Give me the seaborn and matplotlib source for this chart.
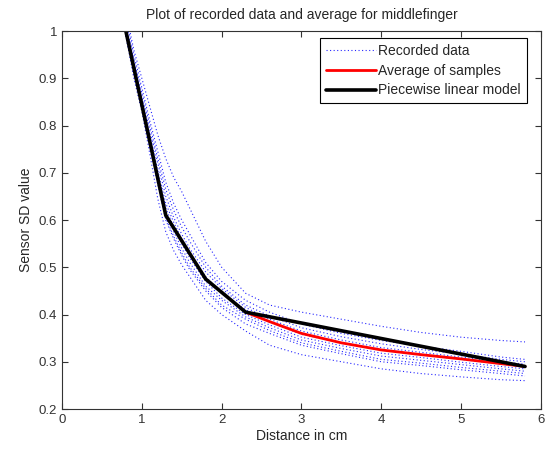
import matplotlib
matplotlib.use("Agg")
import matplotlib.pyplot as plt
import seaborn as sns
import pandas as pd

# ---- data ----
x_samples = [0.8, 0.9, 1.0, 1.1, 1.2, 1.3, 1.4, 1.5, 1.6, 1.8, 2.0, 2.3, 2.6, 3.0, 3.5, 4.0, 4.5, 5.0, 5.5, 5.8]
sample_upper = [1.04, 0.96, 0.90, 0.84, 0.78, 0.73, 0.69, 0.66, 0.625, 0.555, 0.50, 0.445, 0.42, 0.405, 0.39, 0.375, 0.362, 0.352, 0.345, 0.342]
sample_m1 = [1.03, 0.95, 0.88, 0.81, 0.745, 0.68, 0.635, 0.60, 0.57, 0.51, 0.47, 0.43, 0.405, 0.38, 0.36, 0.345, 0.333, 0.322, 0.31, 0.305]
sample_m2 = [1.02, 0.94, 0.87, 0.80, 0.73, 0.665, 0.62, 0.585, 0.555, 0.50, 0.46, 0.42, 0.397, 0.372, 0.353, 0.338, 0.326, 0.316, 0.305, 0.30]
sample_m3 = [1.01, 0.935, 0.86, 0.79, 0.72, 0.65, 0.605, 0.57, 0.54, 0.49, 0.455, 0.415, 0.39, 0.365, 0.346, 0.33, 0.32, 0.31, 0.30, 0.295]
sample_m4 = [1.005, 0.93, 0.855, 0.78, 0.705, 0.635, 0.595, 0.56, 0.53, 0.48, 0.445, 0.41, 0.384, 0.358, 0.34, 0.325, 0.315, 0.305, 0.295, 0.29]
sample_m5 = [1.0, 0.925, 0.85, 0.775, 0.70, 0.625, 0.585, 0.55, 0.52, 0.47, 0.435, 0.40, 0.378, 0.352, 0.334, 0.318, 0.309, 0.299, 0.29, 0.285]
sample_m6 = [1.0, 0.92, 0.845, 0.77, 0.69, 0.615, 0.575, 0.54, 0.51, 0.46, 0.43, 0.395, 0.372, 0.346, 0.328, 0.312, 0.303, 0.294, 0.285, 0.28]
sample_m7 = [0.995, 0.915, 0.84, 0.76, 0.68, 0.605, 0.565, 0.53, 0.50, 0.455, 0.42, 0.39, 0.366, 0.34, 0.322, 0.305, 0.297, 0.288, 0.28, 0.275]
sample_m8 = [0.99, 0.91, 0.835, 0.755, 0.675, 0.60, 0.56, 0.525, 0.495, 0.45, 0.415, 0.38, 0.36, 0.335, 0.317, 0.30, 0.292, 0.283, 0.275, 0.27]
sample_lower = [0.99, 0.90, 0.83, 0.74, 0.645, 0.575, 0.535, 0.505, 0.48, 0.43, 0.40, 0.365, 0.335, 0.315, 0.30, 0.285, 0.275, 0.268, 0.262, 0.26]

samples = [sample_upper, sample_m1, sample_m2, sample_m3, sample_m4, sample_m5,
           sample_m6, sample_m7, sample_m8, sample_lower]

x_average = [2.3, 2.6, 3.0, 3.5, 4.0, 4.5, 5.0, 5.5, 5.8]
y_average = [0.405, 0.385, 0.36, 0.34, 0.325, 0.315, 0.306, 0.296, 0.29]

x_model = [0.8, 1.3, 1.8, 2.3, 5.8]
y_model = [1.0, 0.61, 0.475, 0.405, 0.29]

x_ticks = [0, 1, 2, 3, 4, 5, 6]
y_ticks = [0.2, 0.3, 0.4, 0.5, 0.6, 0.7, 0.8, 0.9, 1.0]
y_tick_labels = ["0.2", "0.3", "0.4", "0.5", "0.6", "0.7", "0.8", "0.9", "1"]

title = "Plot of recorded data and average for middlefinger"
xlabel = "Distance in cm"
ylabel = "Sensor SD value"

# ---- plot ----
sns.set_style("ticks")
plt.rcParams['font.family'] = ['Liberation Sans', 'DejaVu Sans']

fig = plt.figure(figsize=(5.5, 4.54), dpi=100)
ax = fig.add_axes([0.1127, 0.0991, 0.8709, 0.8326])

for i, s in enumerate(samples):
    df = pd.DataFrame({"x": x_samples, "y": s})
    sns.lineplot(data=df, x="x", y="y", ax=ax, color="#0000ff",
                 linestyle=(0, (1, 2.2)), linewidth=0.8, alpha=0.85,
                 estimator=None, sort=False,
                 label="Recorded data" if i == 0 else "_nolegend_", legend=False)

sns.lineplot(x=x_average, y=y_average, ax=ax, color="#ff0000", linewidth=2.0,
             estimator=None, sort=False, label="Average of samples", legend=False)
sns.lineplot(x=x_model, y=y_model, ax=ax, color="black", linewidth=2.6,
             estimator=None, sort=False, label="Piecewise linear model", legend=False)

ax.set_xlim(0, 6)
ax.set_ylim(0.2, 1.0)
ax.set_xticks(x_ticks)
ax.set_xticklabels([str(t) for t in x_ticks])
ax.set_yticks(y_ticks)
ax.set_yticklabels(y_tick_labels)
ax.tick_params(direction="in", top=True, right=True, length=4, width=0.8,
               labelsize=9.5, colors="#333333")
for sp in ax.spines.values():
    sp.set_visible(True)
    sp.set_linewidth(0.8)
    sp.set_color("#333333")

ax.set_title(title, fontsize=10, pad=9)
ax.set_xlabel(xlabel, fontsize=10, labelpad=2)
ax.set_ylabel(ylabel, fontsize=10, labelpad=4)

leg = ax.legend(loc="upper right", fontsize=10, frameon=True, fancybox=False,
                framealpha=1, edgecolor="black", handlelength=3.6,
                bbox_to_anchor=(0.985, 1.0),
                labelspacing=0.42, handletextpad=0.2, borderpad=0.42)
leg.get_frame().set_linewidth(0.8)

fig.savefig("out.png", dpi=100)
